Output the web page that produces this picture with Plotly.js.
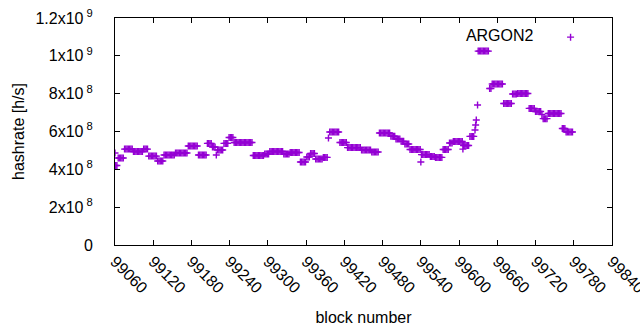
<!DOCTYPE html>
<html>
<head>
<meta charset="utf-8">
<script src="https://cdn.plot.ly/plotly-3.0.1.min.js"></script>
<style>html,body{margin:0;padding:0;background:#fff;}#chart{width:640px;height:330px;}</style>
</head>
<body>
<div id="chart"></div>
<script>
// block numbers
const blocks = [
  99060,
  99061,99063,
  99065,99067,99069,99071,99073,
  99075,99077,99079,99081,99083,99085,99087,
  99089,99091,99093,99095,99097,99099,99101,99103,
  99105,99107,99109,99111,
  99113,99115,99117,99119,99121,99123,99125,
  99127,99129,99131,99133,99135,
  99137,99139,99141,99143,99145,99147,99149,99151,99153,
  99155,99157,99159,99161,99163,99165,99167,99169,99171,99173,
  99175,99177,99179,99181,99183,99185,99187,99189,
  99191,99193,99195,99197,99199,99201,99203,
  99205,99207,99209,99211,
  99213,99215,99217,
  99219,
  99221,99223,99225,99227,99229,
  99231,99233,99235,99237,
  99239,99241,99243,99245,
  99247,99249,99251,99253,99255,99257,99259,99261,99263,99265,99267,99269,99271,99273,99275,
  99277,99279,99281,99283,99285,99287,99289,99291,99293,
  99295,99297,99299,99301,
  99303,99305,99307,99309,99311,99313,99315,99317,99319,99321,99323,
  99325,99327,99329,99331,99333,
  99335,99337,99339,99341,99343,99345,99347,99349,
  99351,99353,99355,99357,99359,
  99361,99363,99365,
  99367,99369,99371,99373,
  99375,99377,99379,99381,99383,99385,
  99387,99389,99391,99393,
  99395,
  99397,99399,99401,99403,99405,99407,99409,99411,
  99413,99415,99417,99419,99421,99423,
  99425,99427,99429,99431,99433,99435,99437,99439,99441,99443,99445,
  99447,99449,99451,99453,99455,99457,99459,99461,
  99463,99465,99467,99469,99471,99473,
  99475,99477,99479,99481,99483,99485,99487,99489,99491,
  99493,99495,99497,99499,
  99501,99503,99505,99507,
  99509,99511,99513,
  99515,99517,99519,99521,
  99523,99525,99527,99529,99531,99533,99535,99537,99539,
  99540,
  99541,99543,99545,99547,99549,99551,99553,
  99555,99557,99559,99561,
  99563,99565,99567,99569,99571,99573,
  99575,99577,99579,99581,99583,
  99585,99587,99589,
  99591,99593,99595,99597,99599,99601,99603,99605,
  99606,
  99607,99609,99611,99613,99615,
  99617,99619,99621,99623,
  99625,99626,99627,99629,
  99630,99632,99634,99636,99638,99640,99642,99644,99646,
  99648,99650,
  99652,99654,99656,99658,99660,99662,99664,99666,99668,
  99670,99672,99674,99676,99678,99680,99682,
  99684,99686,99688,99690,
  99692,99694,99696,99698,99700,99702,99704,99706,99708,
  99710,99712,99714,99716,99718,
  99720,99722,99724,99726,99728,
  99730,
  99732,99734,99736,99738,
  99740,99742,99744,99746,99748,99750,99752,99754,99756,99758,99760,
  99762,99764,99766,
  99768,99770,99772,99774,99776,99778
];
// hashrate in millions of h/s
const hashrateM = [
  486,
  420,420,
  460,460,460,460,460,
  507,507,507,507,507,507,507,
  494,494,494,494,494,494,494,494,
  507,507,507,507,
  470,470,470,470,470,470,470,
  444,444,444,444,444,
  476,476,476,476,476,476,476,476,476,
  486,486,486,486,486,486,486,486,486,486,
  523,523,523,523,523,523,523,523,
  476,476,476,476,476,476,476,
  537,537,537,537,
  518,518,518,
  476,
  502,502,502,502,502,
  537,537,537,537,
  568,568,568,568,
  542,542,542,542,542,542,542,542,542,542,542,542,542,542,542,
  473,473,473,473,473,473,473,473,473,
  481,481,481,481,
  494,494,494,494,494,494,494,494,494,494,494,
  481,481,481,481,481,
  489,489,489,489,489,489,489,489,
  439,439,439,439,439,
  465,465,465,
  484,484,484,484,
  455,455,455,455,455,455,
  463,463,463,463,
  566,
  597,597,597,597,597,597,597,597,
  542,542,542,542,542,542,
  515,515,515,515,515,515,515,515,515,515,515,
  502,502,502,502,502,502,502,502,
  492,492,492,492,492,492,
  592,592,592,592,592,592,592,592,592,
  575,575,575,575,
  560,560,560,560,
  548,548,548,
  534,534,534,534,
  505,505,505,505,505,505,505,505,505,
  439,
  478,478,478,478,478,478,478,
  468,468,468,468,
  463,463,463,463,463,463,
  505,505,505,505,505,
  539,539,539,
  547,547,547,547,547,547,547,547,
  507,
  526,526,526,526,526,
  574,574,574,574,
  608,634,661,740,
  1025,1025,1025,1025,1025,1025,1025,1025,1025,
  827,827,
  851,851,851,851,851,851,851,851,851,
  748,748,748,748,748,748,748,
  798,798,798,798,
  801,801,801,801,801,801,801,801,801,
  722,722,722,722,722,
  706,706,706,706,706,
  690,
  668,668,668,668,
  695,695,695,695,695,695,695,695,695,695,695,
  616,616,616,
  597,597,597,597,597,597
];
const xTickVals = [99060, 99120, 99180, 99240, 99300, 99360, 99420, 99480, 99540, 99600, 99660, 99720, 99780, 99840];
const xTickText = ['99060', '99120', '99180', '99240', '99300', '99360', '99420', '99480', '99540', '99600', '99660', '99720', '99780', '99840'];
const yTickVals = [0, 2e8, 4e8, 6e8, 8e8, 1e9, 1.2e9];
const yTickText = ['0', '2x10<sup>\u00a08</sup>', '4x10<sup>\u00a08</sup>', '6x10<sup>\u00a08</sup>', '8x10<sup>\u00a08</sup>', '1x10<sup>\u00a09</sup>', '1.2x10<sup>\u00a09</sup>'];
const seriesName = 'ARGON2';

const purple = '#9400d3';
const trace = {
  type: 'scatter',
  mode: 'markers',
  x: blocks,
  y: hashrateM.map(v => v * 1e6),
  name: ' ',
  showlegend: true,
  marker: {symbol: 'cross-thin', size: 5, color: purple, line: {color: purple, width: 1.4}}
};

const fam = '"Liberation Sans", Arial, sans-serif';
const layout = {
  width: 640, height: 330,
  margin: {l: 115, r: 28, t: 18, b: 85},
  paper_bgcolor: '#fff', plot_bgcolor: '#fff',
  font: {family: fam, size: 16, color: '#000'},
  showlegend: true,
  xaxis: {
    range: [99060, 99840], tickmode: 'array', tickvals: xTickVals, ticktext: xTickText,
    tickangle: 45, ticks: 'inside', ticklen: 5, tickcolor: '#000',
    ticklabeloverflow: 'allow',
    mirror: 'allticks', showline: true, linecolor: '#000', linewidth: 1,
    showgrid: false, zeroline: false, automargin: false,
    tickfont: {family: fam, size: 16, color: '#000'},
    title: {text: 'block number', font: {family: fam, size: 16, color: '#000'}, standoff: 16}
  },
  yaxis: {
    range: [0, 1.2e9], tickmode: 'array', tickvals: yTickVals, ticktext: yTickText,
    ticks: 'inside', ticklen: 5, tickcolor: '#000', ticklabelstandoff: 18,
    mirror: 'allticks', showline: true, linecolor: '#000', linewidth: 1,
    showgrid: false, zeroline: false, automargin: false,
    tickfont: {family: fam, size: 16, color: '#000'},
    title: {text: 'hashrate [h/s]', font: {family: fam, size: 16, color: '#000'}, standoff: 6}
  },
  legend: {
    x: 0.702, xanchor: 'left', y: 0.99, yanchor: 'top',
    bgcolor: 'rgba(0,0,0,0)', borderwidth: 0, itemwidth: 48,
    font: {family: fam, size: 16, color: '#000'},
    title: {text: seriesName, side: 'left', font: {family: fam, size: 16, color: '#000'}}
  }
};

Plotly.newPlot('chart', [trace], layout, {displayModeBar: false, staticPlot: true});
</script>
</body>
</html>
